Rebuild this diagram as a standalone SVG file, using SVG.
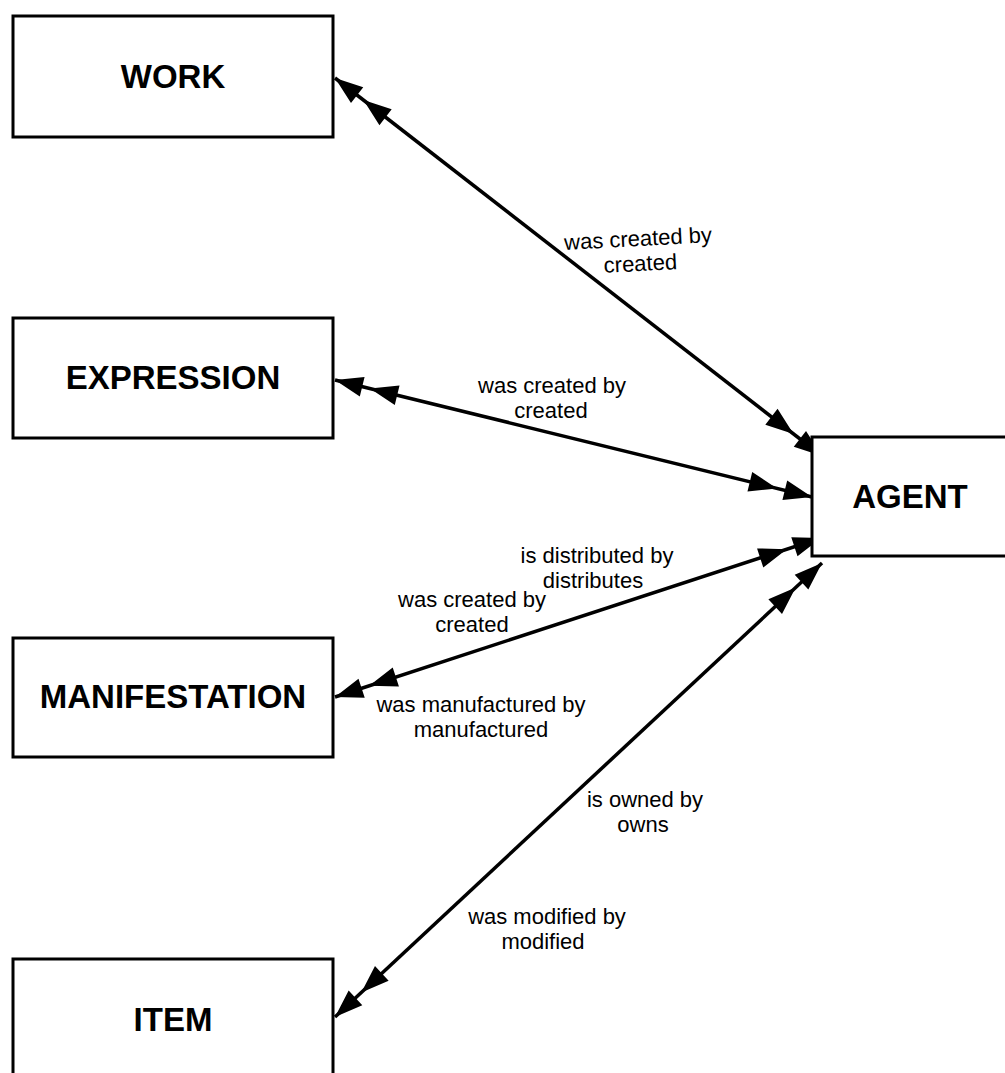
<svg xmlns="http://www.w3.org/2000/svg" width="1005" height="1073" viewBox="0 0 1005 1073">
<style>
.box{fill:#fff;stroke:#000;stroke-width:3}
.nl{font-family:"Liberation Sans",Arial,sans-serif;font-weight:bold;font-size:33px;text-anchor:middle;fill:#000}
.el{font-family:"Liberation Sans",Arial,sans-serif;font-size:22px;text-anchor:middle;fill:#000}
.ln{stroke:#000;stroke-width:3.5;fill:none;marker-start:url(#dbl);marker-end:url(#dbl)}
</style>
<defs>
<marker id="dbl" markerUnits="userSpaceOnUse" viewBox="-70 -12 72 24" refX="0" refY="0" markerWidth="72" markerHeight="24" orient="auto-start-reverse" overflow="visible">
<path d="M0,0 L-28,-10 L-28,10 Z M-36,0 L-64,-10 L-64,10 Z" fill="#000"/>
</marker>
</defs>
<g id="connectors">
<line class="ln" x1="335" y1="78" x2="822" y2="456"/>
<line class="ln" x1="335" y1="380" x2="812" y2="497"/>
<line class="ln" x1="335" y1="697" x2="821" y2="538"/>
<line class="ln" x1="335" y1="1017" x2="822" y2="563"/>
<g id="labels">
<g transform="rotate(-3 639 257)">
<text class="el" x="639" y="246">was created by</text>
<text class="el" x="640" y="271">created</text>
</g>
<text class="el" x="552" y="393">was created by</text>
<text class="el" x="551" y="418">created</text>
<text class="el" x="597" y="563">is distributed by</text>
<text class="el" x="593" y="588">distributes</text>
<text class="el" x="472" y="607">was created by</text>
<text class="el" x="472" y="632">created</text>
<text class="el" x="481" y="712">was manufactured by</text>
<text class="el" x="481" y="737">manufactured</text>
<text class="el" x="645" y="807">is owned by</text>
<text class="el" x="643" y="832">owns</text>
<text class="el" x="547" y="924">was modified by</text>
<text class="el" x="543" y="949">modified</text>
</g>
</g>
<g id="work"><rect class="box" x="13" y="16" width="320" height="121"/><text class="nl" x="173" y="88">WORK</text></g>
<g id="expression"><rect class="box" x="13" y="318" width="320" height="120"/><text class="nl" x="173" y="389">EXPRESSION</text></g>
<g id="manifestation"><rect class="box" x="13" y="638" width="320" height="119"/><text class="nl" x="173" y="708">MANIFESTATION</text></g>
<g id="item"><rect class="box" x="13" y="959" width="320" height="130"/><text class="nl" x="173" y="1031">ITEM</text></g>
<g id="agent"><rect class="box" x="812" y="437" width="210" height="119"/><text class="nl" x="910" y="508">AGENT</text></g>
</svg>
